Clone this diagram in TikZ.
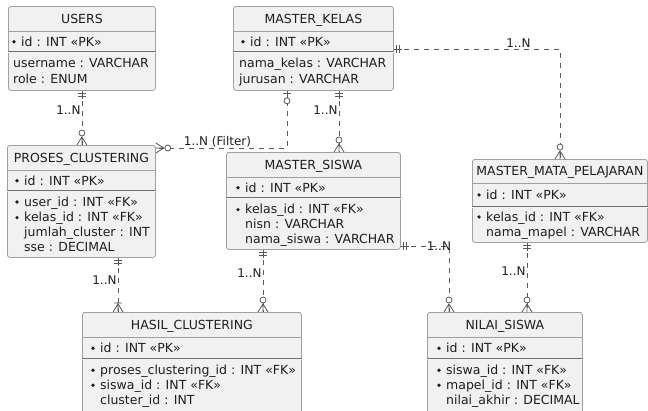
\documentclass[tikz,border=0pt]{standalone}
\usepackage{fontspec}
\setmainfont{DejaVu Sans}
\usetikzlibrary{calc}

\definecolor{boxfill}{HTML}{F1F1F1}
\definecolor{boxline}{HTML}{A0A0A0}
\definecolor{relline}{HTML}{5A5A5A}
\definecolor{txt}{HTML}{1E1E1E}

\tikzset{
	relmark/.style={draw=relline, line width=0.8pt, solid},
	pics/one/.style={code={
		\draw[relmark] (0,0) -- (0,8) (-4,3) -- (4,3) (-4,6) -- (4,6);}},
	pics/zone/.style={code={
		\draw[relmark] (0,0) -- (0,7) (-4,3) -- (4,3);
		\draw[relmark, fill=white] (0,10) circle (3pt);}},
	pics/zmany/.style={code={
		\draw[relmark] (-5,0) -- (0,8) -- (5,0) (0,0) -- (0,8);
		\draw[relmark, fill=white] (0,12) circle (3pt);}},
	pics/omany/.style={code={
		\draw[relmark] (-5,0) -- (0,8) -- (5,0) (0,0) -- (0,10) (-4,9) -- (4,9);}}
}

\begin{document}
\begin{tikzpicture}[
		x=1pt, y=-1pt,
		entity/.style={draw=boxline, fill=boxfill, rounded corners=2.5pt, line width=0.8pt,
			inner sep=0pt, anchor=north west},
		hsep/.style={draw=boxline, line width=0.8pt},
		keysep/.style={draw=boxline!70!black, line width=0.6pt, double=boxfill, double distance=0.8pt},
		title/.style={anchor=base, yshift=-4.5pt, inner sep=0pt, text=txt,
			font=\fontsize{12.5}{15}\selectfont},
		attr/.style={anchor=base west, yshift=-4.5pt, inner sep=0pt, text=txt,
			text height=9.5pt, text depth=1pt, font=\fontsize{12.5}{15}\selectfont},
		dot/.style={circle, fill=txt, inner sep=0pt, minimum size=3.6pt, xshift=-5pt},
		key/.style={attr, label={[dot]left:{}}},
		rel/.style={draw=relline, line width=0.8pt, dash pattern=on 5pt off 5pt},
		rlabel/.style={inner sep=1pt, text=txt, font=\fontsize{12}{14}\selectfont}]
		
		\useasboundingbox (0,0) rectangle (648,410);
		\clip (0,0) rectangle (648,410);
		
		% entities
		\node[entity, minimum width=147pt, minimum height=84pt] (users) at (8,6) {};
		\draw[hsep] ([yshift=-25pt]users.north west) -- ([yshift=-25pt]users.north east);
		\draw[keysep] ([yshift=-46pt]users.north west) -- ([yshift=-46pt]users.north east);
		\node[title] at ([yshift=-12.5pt]users.north) {USERS};
		\node[key] at (21,41.5) {id : INT «PK»};
		\node[attr] at (13,63.3) {username : VARCHAR};
		\node[attr] at (13,79) {role : ENUM};
		
		\node[entity, minimum width=160pt, minimum height=84pt] (kelas) at (233,6) {};
		\draw[hsep] ([yshift=-25pt]kelas.north west) -- ([yshift=-25pt]kelas.north east);
		\draw[keysep] ([yshift=-46pt]kelas.north west) -- ([yshift=-46pt]kelas.north east);
		\node[title] at ([yshift=-12.5pt]kelas.north) {MASTER\_KELAS};
		\node[key] at (250,41.5) {id : INT «PK»};
		\node[attr] at (239,63.3) {nama\_kelas : VARCHAR};
		\node[attr] at (239,79) {jurusan : VARCHAR};
		
		\node[entity, minimum width=148pt, minimum height=112pt] (proses) at (7,145) {};
		\draw[hsep] ([yshift=-25pt]proses.north west) -- ([yshift=-25pt]proses.north east);
		\draw[keysep] ([yshift=-46pt]proses.north west) -- ([yshift=-46pt]proses.north east);
		\node[title] at ([yshift=-12.5pt]proses.north) {PROSES\_CLUSTERING};
		\node[key] at (24,180.5) {id : INT «PK»};
		\node[key] at (24,201.7) {user\_id : INT «FK»};
		\node[key] at (24,217.3) {kelas\_id : INT «FK»};
		\node[attr] at (24,232) {jumlah\_cluster : INT};
		\node[attr] at (24,246.7) {sse : DECIMAL};
		
		\node[entity, minimum width=174pt, minimum height=97pt] (siswa) at (226,152) {};
		\draw[hsep] ([yshift=-25pt]siswa.north west) -- ([yshift=-25pt]siswa.north east);
		\draw[keysep] ([yshift=-46pt]siswa.north west) -- ([yshift=-46pt]siswa.north east);
		\node[title] at ([yshift=-12.5pt]siswa.north) {MASTER\_SISWA};
		\node[key] at (245,187.5) {id : INT «PK»};
		\node[key] at (245,209.3) {kelas\_id : INT «FK»};
		\node[attr] at (245,224.3) {nisn : VARCHAR};
		\node[attr] at (245,239.3) {nama\_siswa : VARCHAR};
		
		\node[entity, minimum width=175pt, minimum height=83pt] (mapel) at (472,159) {};
		\draw[hsep] ([yshift=-24pt]mapel.north west) -- ([yshift=-24pt]mapel.north east);
		\draw[keysep] ([yshift=-48pt]mapel.north west) -- ([yshift=-48pt]mapel.north east);
		\node[title] at ([yshift=-12pt]mapel.north) {MASTER\_MATA\_PELAJARAN};
		\node[key] at (486,194.7) {id : INT «PK»};
		\node[key] at (486,216.7) {kelas\_id : INT «FK»};
		\node[attr] at (486,231.7) {nama\_mapel : VARCHAR};
		
		\node[entity, minimum width=219pt, minimum height=104pt] (hasil) at (82,312) {};
		\draw[hsep] ([yshift=-25pt]hasil.north west) -- ([yshift=-25pt]hasil.north east);
		\draw[keysep] ([yshift=-47pt]hasil.north west) -- ([yshift=-47pt]hasil.north east);
		\node[title] at ([yshift=-12.5pt]hasil.north) {HASIL\_CLUSTERING};
		\node[key] at (100,348) {id : INT «PK»};
		\node[key] at (100,370) {proses\_clustering\_id : INT «FK»};
		\node[key] at (100,385) {siswa\_id : INT «FK»};
		\node[attr] at (100,399.5) {cluster\_id : INT};
		
		\node[entity, minimum width=155pt, minimum height=104pt] (nilai) at (427,312) {};
		\draw[hsep] ([yshift=-25pt]nilai.north west) -- ([yshift=-25pt]nilai.north east);
		\draw[keysep] ([yshift=-47pt]nilai.north west) -- ([yshift=-47pt]nilai.north east);
		\node[title] at ([yshift=-12.5pt]nilai.north) {NILAI\_SISWA};
		\node[key] at (446,348) {id : INT «PK»};
		\node[key] at (446,370) {siswa\_id : INT «FK»};
		\node[key] at (446,385) {mapel\_id : INT «FK»};
		\node[attr] at (446,399.5) {nilai\_akhir : DECIMAL};
		
		% relations
		\coordinate (filter) at (287,148);
		\coordinate (ks) at (339,120);
		\coordinate (km) at (560,49);
		\coordinate (ph) at (118,280);
		\coordinate (sh) at (263,273);
		\coordinate (sn) at (449,246);
		\coordinate (mn) at (527,271);
		
		\draw[rel] (users.south) -- (users.south |- proses.north)
			node[rlabel, pos=0.36, left] {1..N};
		\draw[rel] (filter |- kelas.south) -- (filter) -- (filter -| proses.east)
			node[rlabel, pos=0.53, above] {1..N (Filter)};
		\draw[rel] (ks |- kelas.south) -- (ks |- siswa.north)
			node[rlabel, pos=0.32, left] {1..N};
		\draw[rel] (km -| kelas.east) -- (km) node[rlabel, pos=0.75, above] {1..N}
			-- (km |- mapel.north);
		\draw[rel] (ph |- proses.south) -- (ph |- hasil.north)
			node[rlabel, pos=0.42, left] {1..N};
		\draw[rel] (sh |- siswa.south) -- (sh |- hasil.north)
			node[rlabel, pos=0.38, left] {1..N};
		\draw[rel] (sn -| siswa.east) -- (sn) node[rlabel, pos=0.79] {1..N}
			-- (sn |- nilai.north);
		\draw[rel] (mn |- mapel.south) -- (mn |- nilai.north)
			node[rlabel, pos=0.41, left] {1..N};
		
		% ends
		\pic at (users.south) {one};
		\pic[rotate=180] at (users.south |- proses.north) {zmany};
		\pic at (filter |- kelas.south) {zone};
		\pic[rotate=90] at (filter -| proses.east) {zmany};
		\pic at (ks |- kelas.south) {one};
		\pic[rotate=180] at (ks |- siswa.north) {zmany};
		\pic[rotate=90] at (km -| kelas.east) {one};
		\pic[rotate=180] at (km |- mapel.north) {zmany};
		\pic at (ph |- proses.south) {one};
		\pic[rotate=180] at (ph |- hasil.north) {omany};
		\pic at (sh |- siswa.south) {one};
		\pic[rotate=180] at (sh |- hasil.north) {zmany};
		\pic[rotate=90] at (sn -| siswa.east) {one};
		\pic[rotate=180] at (sn |- nilai.north) {zmany};
		\pic at (mn |- mapel.south) {one};
		\pic[rotate=180] at (mn |- nilai.north) {zmany};
		
\end{tikzpicture}
\end{document}
